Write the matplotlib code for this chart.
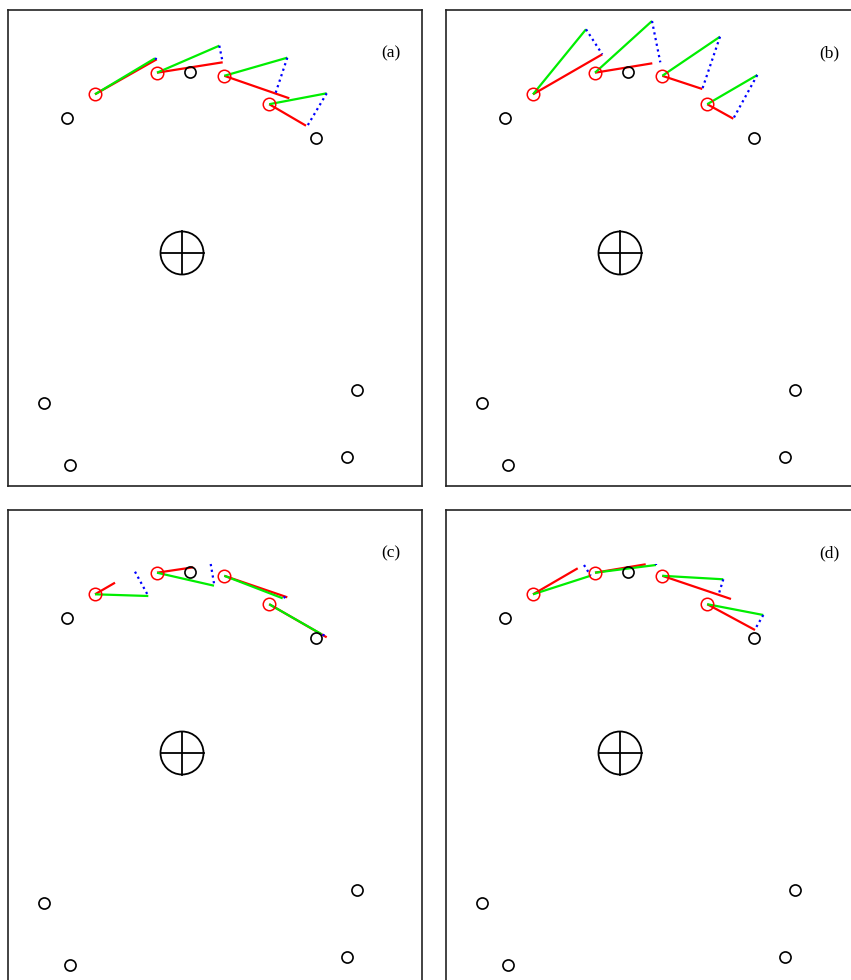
import numpy as np
import matplotlib.pyplot as plt
from matplotlib.patches import Circle

# coordenadas em pixels do mapa (origem no canto superior esquerdo do painel)
marcos_x = [58.5, 181.5, 308.3, 36, 62, 349, 339]
marcos_y = [107.7, 61.7, 127.7, 393, 455, 380, 447]

poses_x = [87, 149, 216.3, 261.2]
poses_y = [84.3, 62.7, 65.8, 94.2]

centro = (174, 243)   # referencia (cruz)
raio_centro = 21.5

# fim das linhas por painel: verde, vermelha, pontilhado azul (inicio -> fim)
verde = {
    'a': [(147, 48.3), (211.3, 35.7), (279.3, 47.7), (318.7, 83.3)],
    'b': [(140, 19.3), (206, 11), (274, 26.7), (311.3, 65)],
    'c': [(140.3, 86), (206, 75.7), (274.7, 88.3), (313.7, 124.3)],
    'd': [(144.7, 65.7), (210, 55), (277.3, 69.3), (317.3, 105)],
}
vermelho = {
    'a': [(148.7, 49.3), (214.7, 52.3), (281.3, 88.3), (298, 115.7)],
    'b': [(156.3, 44.3), (206.3, 53.3), (256.3, 79), (287.3, 108.7)],
    'c': [(107, 72.7), (185.3, 57.3), (279.3, 87.3), (318.7, 127.3)],
    'd': [(131.7, 58.3), (199.7, 54.3), (285, 89), (309, 120)],
}
azul = {
    'a': [((147, 48.3), (148.7, 49.3)), ((211.3, 35.7), (214.7, 52.3)),
          ((279.3, 47.7), (267.7, 82.7)), ((318.7, 83.3), (299.3, 116))],
    'b': [((140, 19.3), (156.3, 44.3)), ((206, 11), (214.3, 52.3)),
          ((274, 26.7), (256.3, 79)), ((311.3, 65), (287.3, 108.7))],
    'c': [((127, 61.7), (140.3, 86)), ((202.7, 54), (206, 73.3)),
          ((277.5, 86.8), (274.7, 88.3)), ((316.5, 125.5), (313.7, 124.3))],
    'd': [((138, 55), (144.7, 65.7)), ((210, 53.5), (210, 55)),
          ((277.3, 69.3), (273, 83.3)), ((317.3, 105), (309, 119.3))],
}

W, H = 851, 980
PW, PH = 414, 476
paineis = {'a': (8, 10), 'b': (446, 10), 'c': (8, 510), 'd': (446, 510)}

fig = plt.figure(figsize=(W / 100, H / 100), dpi=100)

for nome, (px, py) in paineis.items():
    ax = fig.add_axes([px / W, (H - py - PH) / H, PW / W, PH / H])
    ax.set_xlim(0, PW)
    ax.set_ylim(PH, 0)
    ax.set_xticks([])
    ax.set_yticks([])
    for s in ax.spines.values():
        s.set_linewidth(1.2)
        s.set_color('#222222')

    # cruz central
    cx, cy = centro
    ax.add_patch(Circle(centro, raio_centro, fill=False, color='k', lw=1.3))
    ax.plot([cx - raio_centro, cx + raio_centro], [cy, cy], color='k', lw=1.3)
    ax.plot([cx, cx], [cy - raio_centro, cy + raio_centro], color='k', lw=1.3)

    for i in range(len(poses_x)):
        x0, y0 = poses_x[i], poses_y[i]
        vx, vy = vermelho[nome][i]
        gx, gy = verde[nome][i]
        ax.plot([x0, vx], [y0, vy], color='red', lw=1.6, solid_capstyle='butt')
        ax.plot([x0, gx], [y0, gy], color='#00ee00', lw=1.6, solid_capstyle='butt')
        (bx0, by0), (bx1, by1) = azul[nome][i]
        ax.plot([bx0, bx1], [by0, by1], color='blue', lw=1.6, ls=(0, (1, 1.6)))

    ax.plot(marcos_x, marcos_y, 'o', ms=8, mfc='none', mec='k', mew=1.2)
    ax.plot(poses_x, poses_y, 'o', ms=9, mfc='none', mec='red', mew=1.1)

    ax.text(383, 43, '(' + nome + ')', ha='center', va='center',
            fontsize=12.5, family='Liberation Serif')

fig.savefig('out.png', dpi=100)
